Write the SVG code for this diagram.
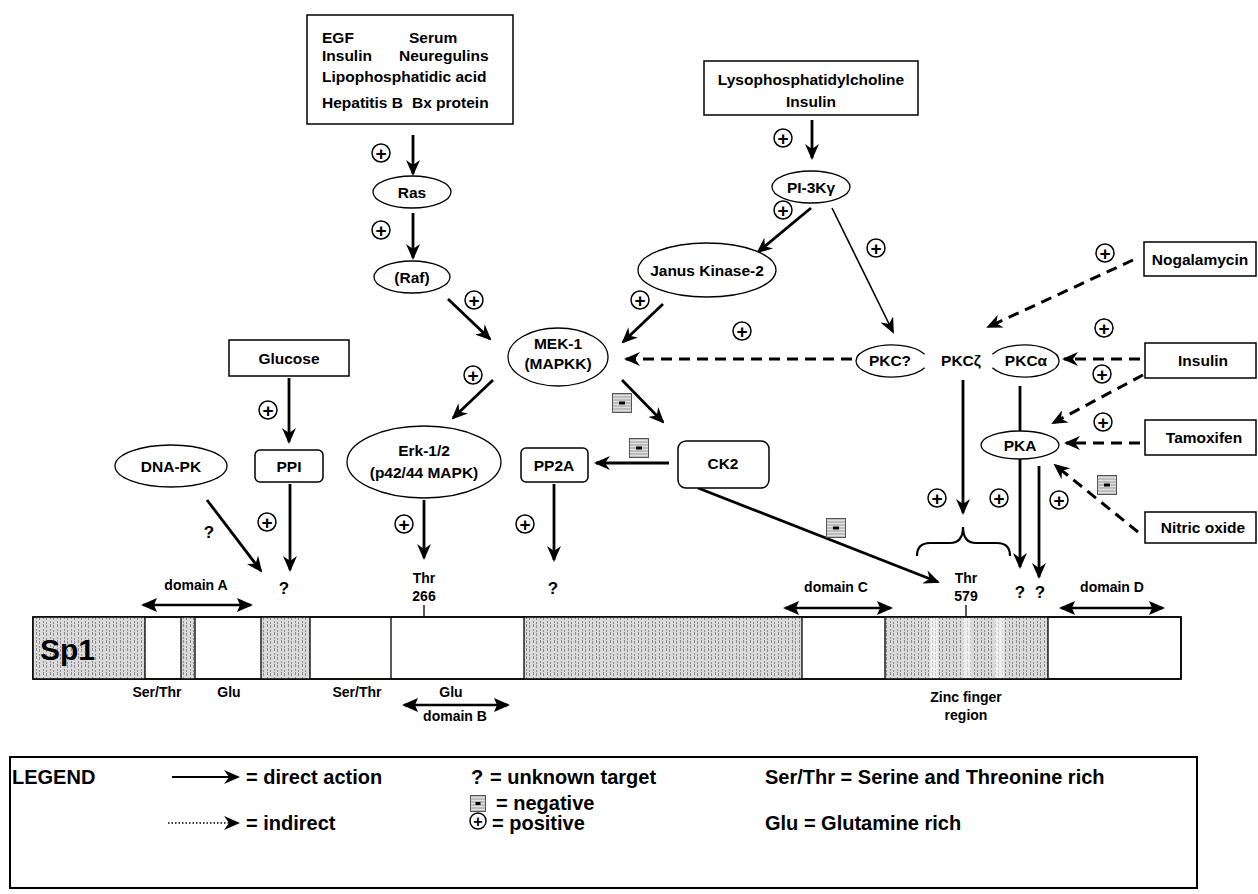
<svg xmlns="http://www.w3.org/2000/svg" width="1258" height="894" viewBox="0 0 1258 894">
<defs>
<style>
.t{font-family:"Liberation Sans",Arial,sans-serif;font-weight:bold;font-size:15.5px;fill:#000}
.s{font-size:14px}
.lg{font-size:20px}
.c{text-anchor:middle}
.box{fill:#fff;stroke:#000;stroke-width:1.5}
.ell{fill:#fff;stroke:#000;stroke-width:1.3}
.a{stroke:#000;stroke-width:2.8;fill:none;marker-end:url(#ah)}
.thin{stroke-width:1.6}
.d{stroke-dasharray:11 7;stroke-width:3}
.dbl{stroke:#000;stroke-width:2.5;fill:none;marker-start:url(#ah2);marker-end:url(#ah2)}
.pc{fill:#fff;stroke:#000;stroke-width:1.5}
.pt{font-family:"Liberation Sans",Arial,sans-serif;font-weight:bold;font-size:19px;text-anchor:middle}
.bar{fill:#fff;stroke:#000;stroke-width:1.5}
.sh{fill:url(#hatch)}
.lt{fill:#fff;opacity:0.55}
.sep{stroke:#000;stroke-width:1.3}
</style>
<marker id="ah" viewBox="0 0 16 14" markerWidth="16" markerHeight="14" refX="14" refY="7" orient="auto" markerUnits="userSpaceOnUse"><path d="M0,0 L16,7 L0,14 L5,7 z" fill="#000"/></marker>
<marker id="ah2" viewBox="0 0 16 14" markerWidth="16" markerHeight="14" refX="14" refY="7" orient="auto-start-reverse" markerUnits="userSpaceOnUse"><path d="M0,0 L16,7 L0,14 L3,7 z" fill="#000"/></marker>
<pattern id="hatch" width="7" height="8" patternUnits="userSpaceOnUse"><rect width="7" height="8" fill="#dadada"/><path d="M1.5,0 V3 M1.5,5 V7 M4.5,1 V4 M4.5,6 V8" stroke="#8c8c8c" stroke-width="1"/></pattern>
<pattern id="negp" width="4" height="3" patternUnits="userSpaceOnUse"><rect width="4" height="3" fill="#e0e0e0"/><path d="M0,1 H4" stroke="#888" stroke-width="0.8"/></pattern>
<g id="neg"><rect x="0.5" y="0.5" width="19" height="19" fill="url(#negp)" stroke="#555" stroke-width="1"/><rect x="7" y="8.5" width="6" height="3" fill="#000"/></g>
<g id="negs"><rect x="0.5" y="0.5" width="15" height="16" fill="url(#negp)" stroke="#555" stroke-width="1"/><rect x="5.5" y="7" width="5" height="3" fill="#000"/></g>
</defs>
<rect width="1258" height="894" fill="#fff"/>

<g id="connectors">
<line class="a" x1="413" y1="135" x2="413" y2="174"/>
<line class="a" x1="413" y1="213" x2="413" y2="258"/>
<line class="a" x1="448" y1="299" x2="490" y2="339"/>
<line class="a" x1="663" y1="304" x2="623" y2="342"/>
<line class="a" x1="812" y1="120" x2="812" y2="158"/>
<line class="a" x1="811" y1="208" x2="758" y2="252"/>
<line class="a thin" x1="832" y1="208" x2="893" y2="332"/>
<line class="a d" x1="1133" y1="260" x2="988" y2="327"/>
<line class="a d" x1="852" y1="359" x2="626" y2="359"/>
<line class="a d" x1="1140" y1="359" x2="1064" y2="359"/>
<line class="a d" x1="1143" y1="375" x2="1053" y2="423"/>
<line class="a d" x1="1140" y1="443" x2="1066" y2="443"/>
<line class="a d" x1="1138" y1="532" x2="1055" y2="465"/>
<line class="a" x1="493" y1="380" x2="453" y2="418"/>
<line class="a" x1="622" y1="380" x2="663" y2="422"/>
<line class="a" x1="669" y1="463" x2="596" y2="463"/>
<line class="a" x1="289" y1="378" x2="289" y2="442"/>
<line class="a" x1="207" y1="500" x2="261" y2="571"/>
<line class="a" x1="290" y1="484" x2="290" y2="570"/>
<line class="a" x1="424" y1="500" x2="424" y2="558"/>
<line class="a" x1="554" y1="484" x2="554" y2="560"/>
<line class="a" x1="698" y1="488" x2="938" y2="582"/>
<line class="a" x1="963" y1="380" x2="963" y2="513"/>
<line class="a" x1="1020" y1="386" x2="1020" y2="567"/>
<line class="a" x1="1039" y1="466" x2="1039" y2="577"/>
<path d="M917,556 Q917,543 930,543 L950,543 Q963,543 963,527 Q963,543 976,543 L997,543 Q1010,543 1010,556" fill="none" stroke="#000" stroke-width="2.2"/>
</g>

<g id="n_growth"><rect class="box" x="307" y="15" width="206" height="109"/>
<text class="t" x="322" y="43">EGF</text><text class="t" x="409" y="43">Serum</text>
<text class="t" x="322" y="61">Insulin</text><text class="t" x="399" y="61">Neuregulins</text>
<text class="t" x="322" y="82">Lipophosphatidic acid</text>
<text class="t" x="322" y="108">Hepatitis B<tspan x="412">Bx protein</tspan></text></g>
<g id="n_ras"><ellipse class="ell" cx="412" cy="192" rx="39" ry="16"/><text class="t c" x="412" y="197.5">Ras</text></g>
<g id="n_raf"><ellipse class="ell" cx="412" cy="277" rx="38" ry="16"/><text class="t c" x="412" y="282.5">(Raf)</text></g>
<g id="n_lyso"><rect class="box" x="704" y="61" width="214" height="54"/>
<text class="t c" x="811" y="85">Lysophosphatidylcholine</text><text class="t c" x="811" y="107">Insulin</text></g>
<g id="n_pi3k"><ellipse class="ell" cx="811" cy="187" rx="39" ry="16"/><text class="t c" x="811" y="192.5">PI-3Kγ</text></g>
<g id="n_jak"><ellipse class="ell" cx="707" cy="270" rx="69" ry="27"/><text class="t c" x="707" y="275.5">Janus Kinase-2</text></g>
<g id="n_mek"><ellipse class="ell" cx="558" cy="357" rx="50" ry="29"/><text class="t c" x="558" y="349">MEK-1</text><text class="t c" x="558" y="369">(MAPKK)</text></g>
<g id="n_glucose"><rect class="box" x="229" y="340" width="120" height="36"/><text class="t c" x="289" y="363.5">Glucose</text></g>
<g id="n_ppi"><rect class="box" x="255" y="450" width="68" height="32" rx="5"/><text class="t c" x="289" y="471.5">PPI</text></g>
<g id="n_dnapk"><ellipse class="ell" cx="171" cy="466" rx="56" ry="21"/><text class="t c" x="171" y="471.5">DNA-PK</text></g>
<g id="n_erk"><ellipse class="ell" cx="424" cy="462" rx="77" ry="36"/><text class="t c" x="424" y="456">Erk-1/2</text><text class="t c" x="424" y="478">(p42/44 MAPK)</text></g>
<g id="n_pp2a"><rect class="box" x="521" y="448" width="67" height="34" rx="5"/><text class="t c" x="554" y="471">PP2A</text></g>
<g id="n_ck2"><rect class="box" x="678" y="441" width="91" height="47" rx="8"/><text class="t c" x="723" y="469">CK2</text></g>
<g id="n_pkcq"><path class="ell" d="M924.6,354.2 A36,16 0 1 0 924.6,367.8"/><text class="t c" x="890" y="366">PKC?</text></g>
<g id="n_pkcz"><text class="t c" x="961" y="366">PKCζ</text></g>
<g id="n_pkca"><path class="ell" d="M992.4,354.2 A35,16 0 1 1 992.4,367.8"/><text class="t c" x="1026" y="366">PKCα</text></g>
<g id="n_pka"><ellipse class="ell" cx="1020" cy="445" rx="39" ry="14"/><text class="t c" x="1020" y="450.5">PKA</text></g>
<g id="n_noga"><rect class="box" x="1144" y="242" width="112" height="34"/><text class="t c" x="1200" y="264.5">Nogalamycin</text></g>
<g id="n_insulin2"><rect class="box" x="1145" y="343" width="111" height="35"/><text class="t c" x="1203" y="366">Insulin</text></g>
<g id="n_tamox"><rect class="box" x="1145" y="420" width="111" height="35"/><text class="t c" x="1204" y="443">Tamoxifen</text></g>
<g id="n_no"><rect class="box" x="1145" y="512" width="111" height="31"/><text class="t c" x="1203" y="533">Nitric oxide</text></g>

<g id="signs">
<circle class="pc" cx="381" cy="153" r="9"/><text class="pt" x="381" y="159.5">+</text>
<circle class="pc" cx="381" cy="230" r="9"/><text class="pt" x="381" y="236.5">+</text>
<circle class="pc" cx="474" cy="300" r="9"/><text class="pt" x="474" y="306.5">+</text>
<circle class="pc" cx="640" cy="300" r="9"/><text class="pt" x="640" y="306.5">+</text>
<circle class="pc" cx="783" cy="138" r="9"/><text class="pt" x="783" y="144.5">+</text>
<circle class="pc" cx="783" cy="210" r="9"/><text class="pt" x="783" y="216.5">+</text>
<circle class="pc" cx="876" cy="248" r="9"/><text class="pt" x="876" y="254.5">+</text>
<circle class="pc" cx="1105" cy="253" r="9"/><text class="pt" x="1105" y="259.5">+</text>
<circle class="pc" cx="742" cy="331" r="9"/><text class="pt" x="742" y="337.5">+</text>
<circle class="pc" cx="1104" cy="328" r="9"/><text class="pt" x="1104" y="334.5">+</text>
<circle class="pc" cx="1102" cy="374" r="9"/><text class="pt" x="1102" y="380.5">+</text>
<circle class="pc" cx="1103" cy="422" r="9"/><text class="pt" x="1103" y="428.5">+</text>
<circle class="pc" cx="473" cy="375" r="9"/><text class="pt" x="473" y="381.5">+</text>
<circle class="pc" cx="268" cy="410" r="9"/><text class="pt" x="268" y="416.5">+</text>
<circle class="pc" cx="267" cy="522" r="9"/><text class="pt" x="267" y="528.5">+</text>
<circle class="pc" cx="404" cy="524" r="9"/><text class="pt" x="404" y="530.5">+</text>
<circle class="pc" cx="525" cy="524" r="9"/><text class="pt" x="525" y="530.5">+</text>
<circle class="pc" cx="937" cy="498" r="9"/><text class="pt" x="937" y="504.5">+</text>
<circle class="pc" cx="999" cy="498" r="9"/><text class="pt" x="999" y="504.5">+</text>
<circle class="pc" cx="1059" cy="500" r="9"/><text class="pt" x="1059" y="506.5">+</text>
<use href="#neg" x="612" y="393"/>
<use href="#neg" x="629" y="438"/>
<use href="#neg" x="826" y="518"/>
<use href="#neg" x="1097" y="475"/>
</g>

<g id="sp1">
<rect class="bar" x="33" y="617" width="1148" height="62"/>
<rect class="sh" x="33" y="617" width="112" height="62"/>
<rect class="sh" x="181" y="617" width="14" height="62"/>
<rect class="sh" x="261" y="617" width="49" height="62"/>
<rect class="sh" x="524" y="617" width="278" height="62"/>
<rect class="sh" x="885" y="617" width="163" height="62"/>
<rect class="lt" x="930" y="618" width="8" height="60"/>
<rect class="lt" x="963" y="618" width="8" height="60"/>
<rect class="lt" x="995" y="618" width="9" height="60"/>
<rect x="33" y="617" width="1148" height="62" fill="none" stroke="#000" stroke-width="1.5"/>
<line class="sep" x1="145" y1="617" x2="145" y2="679" stroke-width="3"/>
<line class="sep" x1="181" y1="617" x2="181" y2="679"/>
<line class="sep" x1="195" y1="617" x2="195" y2="679"/>
<line class="sep" x1="261" y1="617" x2="261" y2="679"/>
<line class="sep" x1="310" y1="617" x2="310" y2="679"/>
<line class="sep" x1="391" y1="617" x2="391" y2="679"/>
<line class="sep" x1="524" y1="617" x2="524" y2="679"/>
<line class="sep" x1="802" y1="617" x2="802" y2="679"/>
<line class="sep" x1="885" y1="617" x2="885" y2="679"/>
<line class="sep" x1="1048" y1="617" x2="1048" y2="679"/>
<line class="sep" x1="424" y1="605" x2="424" y2="617"/>
<line class="sep" x1="966" y1="605" x2="966" y2="617"/>
<text class="t" x="40" y="660" style="font-size:30px">Sp1</text>
<text class="t s c" x="157" y="697">Ser/Thr</text>
<text class="t s c" x="229" y="697">Glu</text>
<text class="t s c" x="357" y="697">Ser/Thr</text>
<text class="t s c" x="451" y="697">Glu</text>
<text class="t s c" x="966" y="702">Zinc finger</text>
<text class="t s c" x="966" y="720">region</text>
<text class="t s c" x="196" y="590">domain A</text>
<line class="dbl" x1="143" y1="605" x2="251" y2="605"/>
<text class="t s c" x="455" y="721">domain B</text>
<line class="dbl" x1="404" y1="705" x2="508" y2="705"/>
<text class="t s c" x="836" y="592">domain C</text>
<line class="dbl" x1="785" y1="608" x2="891" y2="608"/>
<text class="t s c" x="1112" y="592">domain D</text>
<line class="dbl" x1="1061" y1="608" x2="1163" y2="608"/>
<text class="t s c" x="424" y="583">Thr</text>
<text class="t s c" x="424" y="601">266</text>
<text class="t s c" x="966" y="583">Thr</text>
<text class="t s c" x="966" y="601">579</text>
<text class="t c" x="209" y="538" style="font-size:17px">?</text>
<text class="t c" x="284" y="594" style="font-size:17px">?</text>
<text class="t c" x="553" y="594" style="font-size:17px">?</text>
<text class="t c" x="1020" y="598" style="font-size:17px">?</text>
<text class="t c" x="1040" y="598" style="font-size:17px">?</text>
</g>

<g id="legend">
<rect x="10" y="757" width="1187" height="131" fill="none" stroke="#000" stroke-width="2"/>
<text class="t lg" x="12" y="784">LEGEND</text>
<line x1="172" y1="777" x2="238" y2="777" stroke="#000" stroke-width="2" marker-end="url(#ah)"/>
<text class="t lg" x="246" y="784">= direct action</text>
<text class="t lg" x="471" y="784">?</text>
<text class="t lg" x="490" y="784">= unknown target</text>
<use href="#negs" x="470" y="795"/>
<text class="t lg" x="496" y="810">= negative</text>
<line x1="168" y1="823" x2="238" y2="823" stroke="#000" stroke-width="1.5" stroke-dasharray="1.5 2" marker-end="url(#ah)"/>
<text class="t lg" x="246" y="830">= indirect</text>
<circle class="pc" cx="478" cy="821" r="8"/><text class="pt" x="478" y="827" style="font-size:16px">+</text>
<text class="t lg" x="492" y="830">= positive</text>
<text class="t lg" x="765" y="784">Ser/Thr = Serine and Threonine rich</text>
<text class="t lg" x="765" y="830">Glu = Glutamine rich</text>
</g>
</svg>
